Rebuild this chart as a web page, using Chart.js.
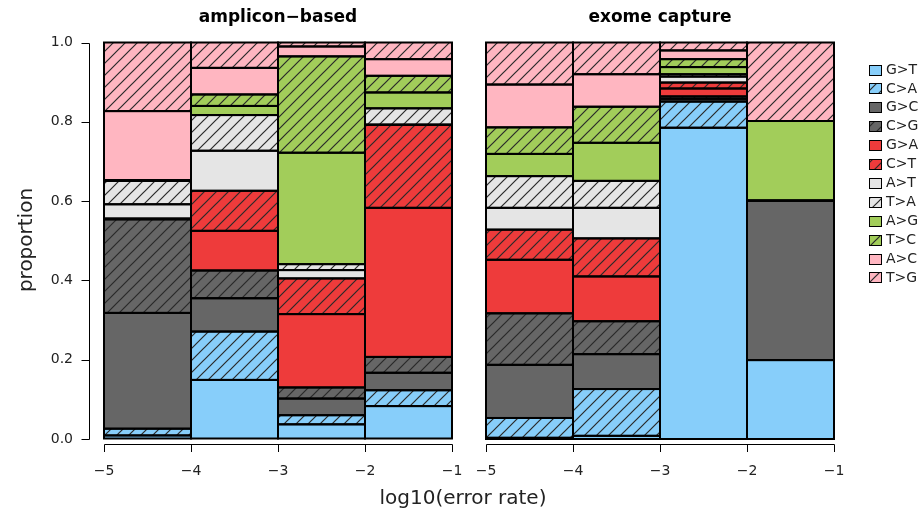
<!DOCTYPE html>
<html><head><meta charset="utf-8">
<script src="https://cdn.jsdelivr.net/npm/chart.js@4/dist/chart.umd.min.js"></script>
<style>
html,body{margin:0;padding:0;background:#fff;}
#wrap{position:relative;width:922px;height:520px;background:#fff;}
canvas{position:absolute;left:0;top:0;}
</style></head><body>
<div id="wrap"><canvas id="c1" width="922" height="520"></canvas><canvas id="c2" width="922" height="520"></canvas></div>
<script>
// ---- data ----
const mutationTypes = ['G>T','C>A','G>C','C>G','G>A','C>T','A>T','T>A','A>G','T>C','A>C','T>G'];
const baseColors    = ['#87CEFA','#87CEFA','#666666','#666666','#EE3B3B','#EE3B3B','#E5E5E5','#E5E5E5','#A2CD5A','#A2CD5A','#FFB6C1','#FFB6C1'];
const hatched       = [false,true,false,true,false,true,false,true,false,true,false,true];
const binCenters = [-4.5, -3.5, -2.5, -1.5];
const tickValues = [-5, -4, -3, -2, -1];
const yTickValues = [0, 0.2, 0.4, 0.6, 0.8, 1];
const panelTitles = ['amplicon\u2212based', 'exome capture'];
// proportions per log10(error rate) bin, in mutationTypes order
const ampliconBin1 = [0.009,0.017,0.292,0.236,0.001,0.001,0.036,0.059,0.001,0.001,0.174,0.173];
const ampliconBin2 = [0.149,0.122,0.084,0.070,0.100,0.101,0.101,0.090,0.023,0.029,0.067,0.064];
const ampliconBin3 = [0.037,0.023,0.042,0.028,0.185,0.090,0.021,0.015,0.281,0.243,0.025,0.010];
const ampliconBin4 = [0.083,0.040,0.044,0.040,0.376,0.209,0.001,0.041,0.040,0.042,0.042,0.042];
const exomeBin1    = [0.003,0.050,0.134,0.130,0.135,0.076,0.055,0.080,0.056,0.067,0.108,0.106];
const exomeBin2    = [0.008,0.118,0.088,0.083,0.113,0.096,0.077,0.068,0.096,0.091,0.082,0.080];
const exomeBin3    = [0.785,0.066,0.007,0.006,0.020,0.015,0.015,0.006,0.018,0.020,0.022,0.020];
const exomeBin4    = [0.199,0.000,0.402,0.000,0.000,0.000,0.000,0.000,0.201,0.000,0.000,0.198];

const FONT = '"DejaVu Sans", sans-serif';
const TXT = '#222';

function makeHatch(color) {
  const s = 12;
  const c = document.createElement('canvas');
  c.width = s; c.height = s;
  const g = c.getContext('2d');
  g.fillStyle = color; g.fillRect(0, 0, s, s);
  g.strokeStyle = '#2a2a2a'; g.lineWidth = 1.2;
  g.beginPath();
  g.moveTo(0, s); g.lineTo(s, 0);
  g.moveTo(-2, 2); g.lineTo(2, -2);
  g.moveTo(s - 2, s + 2); g.lineTo(s + 2, s - 2);
  g.stroke();
  return g.createPattern(c, 'repeat');
}
const fills = baseColors.map((c, i) => hatched[i] ? makeHatch(c) : c);

function buildDatasets(bins) {
  return mutationTypes.map((name, k) => ({
    label: name,
    data: bins.map((b, j) => ({ x: binCenters[j], y: b[k] })),
    backgroundColor: fills[k],
    borderWidth: 0,
    inflateAmount: 0,
    barPercentage: 1,
    categoryPercentage: 1,
    stack: 'all'
  }));
}

const TOP = 42.5, BOTTOM = 439;
function tickLabel(v) { return String(v).replace('-', '\u2212'); }

// outline every bar segment (R style: line centred on the rectangle edge)
const outlinePlugin = {
  id: 'outline',
  afterDatasetsDraw(chart) {
    const ctx = chart.ctx;
    ctx.save();
    ctx.strokeStyle = '#000';
    ctx.lineWidth = 2;
    chart.data.datasets.forEach((ds, i) => {
      chart.getDatasetMeta(i).data.forEach(el => {
        const { x, y, base, width } = el.getProps(['x', 'y', 'base', 'width'], true);
        const top = Math.min(y, base), bot = Math.max(y, base);
        ctx.strokeRect(x - width / 2, top, width, bot - top);
      });
    });
    ctx.restore();
  }
};

function axesPlugin(panel) {
  return {
    id: 'rAxes' + panel,
    afterDraw(chart) {
      const ctx = chart.ctx;
      const xs = chart.scales.x, ys = chart.scales.y;
      ctx.save();
      ctx.strokeStyle = '#000'; ctx.lineWidth = 1;
      // x axis line & ticks
      const xa = 444.5;
      ctx.beginPath();
      ctx.moveTo(Math.round(xs.getPixelForValue(tickValues[0])) + 0.5, xa);
      ctx.lineTo(Math.round(xs.getPixelForValue(tickValues[tickValues.length - 1])) + 0.5, xa);
      tickValues.forEach(v => {
        const px = Math.round(xs.getPixelForValue(v)) + 0.5;
        ctx.moveTo(px, xa); ctx.lineTo(px, xa + 7.5);
      });
      ctx.stroke();
      // title
      ctx.fillStyle = '#000';
      ctx.font = 'bold 17px ' + FONT;
      ctx.textAlign = 'center'; ctx.textBaseline = 'middle';
      ctx.fillText(panelTitles[panel], (chart.chartArea.left + chart.chartArea.right) / 2, 18);
      if (panel === 0) {
        // y axis
        const ya = 89.5;
        ctx.beginPath();
        ctx.moveTo(ya, Math.round(ys.getPixelForValue(0)) + 0.5);
        ctx.lineTo(ya, Math.round(ys.getPixelForValue(1)) + 0.5);
        yTickValues.forEach(v => {
          const py = Math.round(ys.getPixelForValue(v)) + 0.5;
          ctx.moveTo(ya, py); ctx.lineTo(ya - 8, py);
        });
        ctx.stroke();
        ctx.fillStyle = TXT;
        ctx.font = '20px ' + FONT;
        ctx.textAlign = 'center'; ctx.textBaseline = 'middle';
        ctx.fillText('log10(error rate)', 463, 499);
        ctx.save();
        ctx.translate(27, 240);
        ctx.rotate(-Math.PI / 2);
        ctx.fillText('proportion', 0, 0);
        ctx.restore();
      } else {
        // legend
        ctx.font = '14px ' + FONT;
        ctx.textAlign = 'left'; ctx.textBaseline = 'middle';
        mutationTypes.forEach((name, i) => {
          const y = 69.5 + i * 18.9;
          const by = Math.round(y - 5) + 0.5;
          ctx.fillStyle = fills[i];
          ctx.fillRect(869.5, by, 12, 10);
          ctx.strokeStyle = '#000';
          ctx.strokeRect(869.5, by, 12, 10);
          ctx.fillStyle = TXT;
          ctx.fillText(name, 886, y + 0.5);
        });
      }
      ctx.restore();
    }
  };
}

function makeChart(id, bins, panel) {
  const left = panel === 0 ? 0 : 486;
  const right = panel === 0 ? 922 - 452 : 922 - 834;
  return new Chart(document.getElementById(id), {
    type: 'bar',
    data: { datasets: buildDatasets(bins) },
    options: {
      responsive: false,
      animation: false,
      layout: { padding: { left: left, right: right, top: TOP, bottom: 0 } },
      plugins: { legend: { display: false }, tooltip: { enabled: false }, title: { display: false } },
      scales: {
        x: {
          type: 'linear', min: -5, max: -1, offset: false, stacked: true,
          afterBuildTicks: s => { s.ticks = tickValues.map(v => ({ value: v })); },
          afterFit: s => { s.height = 520 - BOTTOM; },
          ticks: { callback: v => tickLabel(v), font: { family: FONT, size: 14 }, color: TXT, padding: 10, maxRotation: 0, autoSkip: false },
          grid: { display: true, drawOnChartArea: false, color: 'rgba(0,0,0,0)', tickLength: 14 },
          border: { display: false }
        },
        y: {
          display: panel === 0,
          min: 0, max: 1, stacked: true,
          afterBuildTicks: s => { s.ticks = yTickValues.map(v => ({ value: v })); },
          afterFit: s => { s.width = panel === 0 ? 104 : 0; },
          ticks: { callback: v => v.toFixed(1), font: { family: FONT, size: 14 }, color: TXT, padding: 8 },
          grid: { display: true, drawOnChartArea: false, color: 'rgba(0,0,0,0)', tickLength: 23 },
          border: { display: false }
        }
      }
    },
    plugins: [outlinePlugin, axesPlugin(panel)]
  });
}

makeChart('c1', [ampliconBin1, ampliconBin2, ampliconBin3, ampliconBin4], 0);
makeChart('c2', [exomeBin1, exomeBin2, exomeBin3, exomeBin4], 1);
</script>
</body></html>
